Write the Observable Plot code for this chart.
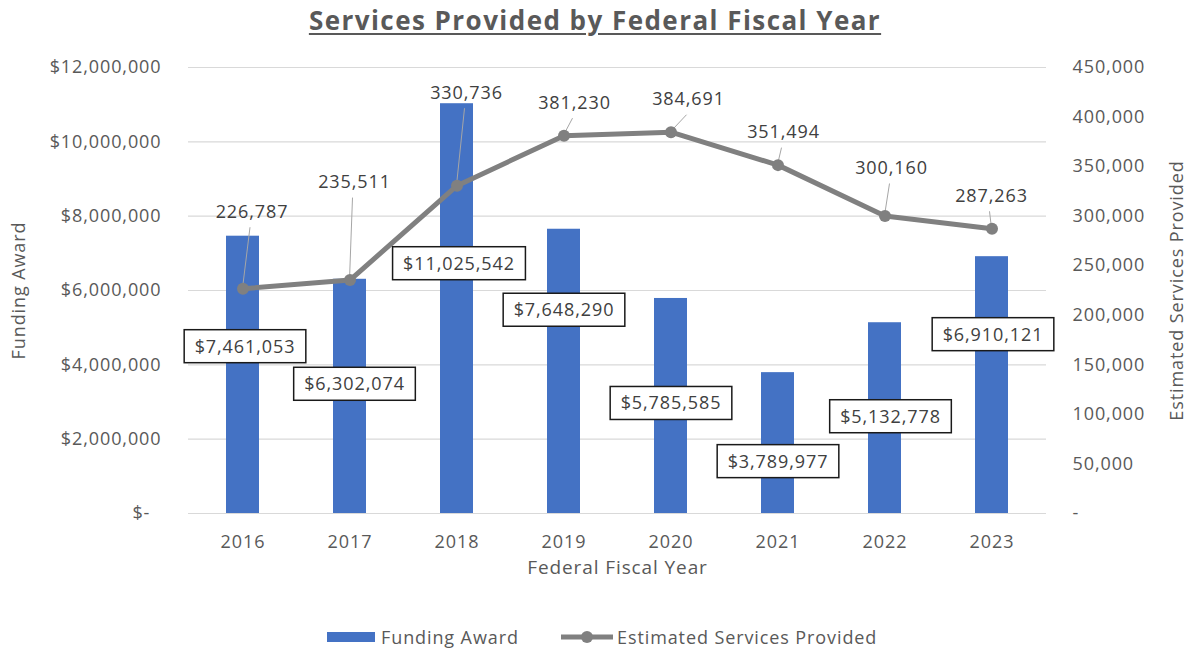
<!DOCTYPE html>
<html><head><meta charset="utf-8">
<script src="https://cdn.jsdelivr.net/npm/d3@7"></script>
<script src="https://cdn.jsdelivr.net/npm/@observablehq/plot@0.6"></script>
<style>
html,body{margin:0;padding:0;background:#fff;}
body{width:1190px;height:649px;position:relative;overflow:hidden;font-family:"Open Sans",sans-serif;}
#title{position:absolute;left:0;top:2px;width:1190px;text-align:center;font-size:26px;letter-spacing:1.45px;line-height:36px;font-weight:700;color:#595959;text-decoration:underline;text-underline-offset:3px;}
#chart{position:absolute;left:0;top:40px;}
.lg{position:absolute;font-size:18px;letter-spacing:0.9px;color:#595959;line-height:24px;top:625px;}
</style></head><body>
<div id="title">Services Provided by Federal Fiscal Year</div>
<div id="chart"></div>
<svg style="position:absolute;left:327px;top:632px" width="48" height="10"><rect width="48" height="10" fill="#4472C4"/></svg>
<div class="lg" style="left:381px">Funding Award</div>
<svg style="position:absolute;left:561px;top:629px" width="52" height="16"><line x1="0" y1="8" x2="52" y2="8" stroke="#808080" stroke-width="5"/><circle cx="26" cy="8" r="6" fill="#808080"/></svg>
<div class="lg" style="left:617px">Estimated Services Provided</div>
<script>
// ---- data ----
const years = ["2016","2017","2018","2019","2020","2021","2022","2023"];
const funding = [7461053, 6302074, 11025542, 7648290, 5785585, 3789977, 5132778, 6910121];
const services = [226787, 235511, 330736, 381230, 384691, 351494, 300160, 287263];
const fundingTicks = [0, 2000000, 4000000, 6000000, 8000000, 10000000, 12000000];
const servicesTicks = [0, 50000, 100000, 150000, 200000, 250000, 300000, 350000, 400000, 450000];
// label placement (pixel offsets from the bar top / point), styling only
const fundingLabelOffset = [[2.5,110.5],[5,105],[2.5,160],[0.5,81],[0.5,105],[0.5,89],[6,94],[1.5,78]];
const servicesLabelOffset = [[9.5,-77],[5,-98],[10,-93],[11,-33],[18,-33],[6,-33],[7,-48],[0,-33]];

const k = fundingTicks[fundingTicks.length-1] / servicesTicks[servicesTicks.length-1];
const fmtNum = d3.format(",");
const fmtMoney = d => d === 0 ? "$-\u2007" : "$" + fmtNum(d);
const fmtCount = d => d === 0 ? "-" : fmtNum(Math.round(d));

const rows = years.map((year, i) => ({
  year, fund: funding[i], serv: services[i], servScaled: services[i] * k,
  fo: fundingLabelOffset[i], so: servicesLabelOffset[i]
}));

const NS = "http://www.w3.org/2000/svg";
const ctx = document.createElement("canvas").getContext("2d");
ctx.font = "18px 'Open Sans'";
const LS = 0.9;
const textWidth = s => ctx.measureText(s).width + s.length * LS;

function el(name, attrs) {
  const e = document.createElementNS(NS, name);
  for (const a in attrs) e.setAttribute(a, attrs[a]);
  return e;
}
const halfBand = scales => (scales.x && typeof scales.x.bandwidth === "function") ? scales.x.bandwidth() / 2 : 0;

function fundingLabels(index, scales, values) {
  const g = el("g", {});
  const bx = halfBand(scales);
  for (const i of index) {
    const r = rows[i];
    const cx = values.x[i] + bx + r.fo[0], cy = values.y[i] + r.fo[1];
    const s = "$" + fmtNum(r.fund);
    const w = textWidth(s) + 21, h = 33;
    g.appendChild(el("rect", {x: cx - w/2, y: cy - h/2, width: w, height: h, fill: "#fff", stroke: "#1a1a1a", "stroke-width": 1.5}));
    const t = el("text", {x: cx, y: cy, dy: "0.36em", "text-anchor": "middle", fill: "#404040"});
    t.textContent = s;
    g.appendChild(t);
  }
  return g;
}

function servicesLabels(index, scales, values) {
  const g = el("g", {});
  const bx = halfBand(scales);
  for (const i of index) {
    const r = rows[i];
    const px = values.x[i] + bx, py = values.y[i];
    const cx = px + r.so[0], cy = py + r.so[1];
    g.appendChild(el("line", {x1: cx - 2, y1: cy + 16, x2: px, y2: py, stroke: "#A6A6A6", "stroke-width": 1}));
    const t = el("text", {x: cx, y: cy, dy: "0.36em", "text-anchor": "middle", fill: "#404040"});
    t.textContent = fmtNum(r.serv);
    g.appendChild(t);
  }
  return g;
}

const plot = Plot.plot({
  width: 1190, height: 560,
  marginTop: 27, marginBottom: 87, marginLeft: 188, marginRight: 144,
  style: {fontFamily: "'Open Sans', sans-serif", fontSize: "18px", color: "#595959", letterSpacing: "0.9px", background: "#fff", overflow: "visible"},
  x: {domain: years, paddingInner: 0.69, paddingOuter: 0.345, label: null},
  y: {domain: [0, fundingTicks[fundingTicks.length-1]], label: null},
  marks: [
    Plot.gridY(fundingTicks, {stroke: "#D9D9D9", strokeOpacity: 1, strokeWidth: 1.2}),
    Plot.barY(rows, {x: "year", y: "fund", fill: "#4472C4"}),
    Plot.axisX({tickSize: 0, tickPadding: 22, label: null}),
    Plot.axisY(fundingTicks, {anchor: "left", tickSize: 0, tickPadding: 27, tickFormat: fmtMoney, label: null}),
    Plot.axisY(servicesTicks.map(v => v * k), {anchor: "right", tickSize: 0, tickPadding: 26, tickFormat: d => fmtCount(d / k), label: null}),
    Plot.dot(rows, {x: "year", y: "servScaled", render: servicesLabels}),
    Plot.line(rows, {x: "year", y: "servScaled", stroke: "#808080", strokeWidth: 5}),
    Plot.dot(rows, {x: "year", y: "servScaled", r: 6, fill: "#808080"}),
    Plot.dot(rows, {x: "year", y: "fund", render: fundingLabels}),
    Plot.text(["Federal Fiscal Year"], {frameAnchor: "bottom", dy: 60, text: d => d, fill: "#595959", fontSize: 19, textAnchor: "middle"}),
    Plot.text(["Funding Award"], {frameAnchor: "left", dx: -169.5, rotate: -90, text: d => d, fill: "#595959", textAnchor: "middle"}),
    Plot.text(["Estimated Services Provided"], {frameAnchor: "right", dx: 131, rotate: -90, text: d => d, fill: "#595959", textAnchor: "middle"})
  ]
});
document.getElementById("chart").appendChild(plot);
</script>
</body></html>
